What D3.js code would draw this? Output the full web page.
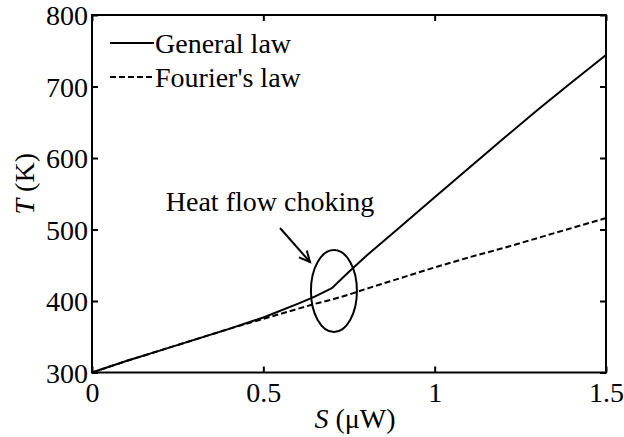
<!DOCTYPE html>
<html><head><meta charset="utf-8">
<script src="https://cdn.jsdelivr.net/npm/d3@7"></script>
<style>body{margin:0;background:#fff}svg{display:block}
svg text{font-family:"Liberation Serif","Times New Roman","DejaVu Serif",serif !important;fill:#000}</style>
</head><body><svg id="c" width="624" height="437"></svg>
<script>
const sValues = [0,0.1,0.2,0.3,0.4,0.5,0.6,0.65,0.7,0.75,0.8,0.9,1.0,1.1,1.2,1.3,1.4,1.5];
const generalLaw = [300,316,331,346,361,377,396,406,418,441,463,504,545,586,627,667,706,744];
const fourierLaw = [300,316,331,346,361,375,389,396,402,409,417,432,447,461,474,488,502,516];
const xTicks = [0,0.5,1,1.5];
const xTickLabels = ["0","0.5","1","1.5"];
const yTicks = [300,400,500,600,700,800];
const seriesNames = ["General law","Fourier's law"];
const annotationText = "Heat flow choking";

const FONT = "Liberation Serif, Times New Roman, DejaVu Serif, serif";
const FS = 28;
const svg = d3.select("#c");
const L=92,R=606,T=15,B=372.5;
const x = d3.scaleLinear().domain([0,1.5]).range([L,R]);
const y = d3.scaleLinear().domain([300,800]).range([B,T]);

svg.append("rect").attr("x",L).attr("y",T).attr("width",R-L).attr("height",B-T)
  .attr("fill","none").attr("stroke","#000").attr("stroke-width",2);

const tickLen=6;
const ax = svg.append("g").attr("transform",`translate(0,${B})`)
  .call(d3.axisBottom(x).tickValues(xTicks).tickFormat((d,i)=>xTickLabels[i]).tickSizeInner(-tickLen).tickSizeOuter(0).tickPadding(10));
const ax2 = svg.append("g").attr("transform",`translate(0,${T})`)
  .call(d3.axisTop(x).tickValues(xTicks).tickFormat("").tickSizeInner(-tickLen).tickSizeOuter(0));
const ay = svg.append("g").attr("transform",`translate(${L},0)`)
  .call(d3.axisLeft(y).tickValues(yTicks).tickFormat(d3.format("d")).tickSizeInner(-tickLen).tickSizeOuter(0).tickPadding(4));
const ay2 = svg.append("g").attr("transform",`translate(${R},0)`)
  .call(d3.axisRight(y).tickValues(yTicks).tickFormat("").tickSizeInner(-tickLen).tickSizeOuter(0));
[ax,ax2,ay,ay2].forEach(g=>{
  g.attr("font-family",FONT).attr("font-size",FS);
  g.select(".domain").remove();
  g.selectAll("line").attr("stroke","#000").attr("stroke-width",2);
  g.selectAll("text").attr("fill","#000");
});
ax.selectAll("text").attr("dy","0.71em");
ay.selectAll("text").attr("dy","0.35em");

const line = d3.line().x((d,i)=>x(sValues[i])).y(d=>y(d));
svg.append("path").datum(fourierLaw).attr("d",line).attr("fill","none").attr("stroke","#000")
  .attr("stroke-width",2).attr("stroke-dasharray","6,3");
svg.append("path").datum(generalLaw).attr("d",line).attr("fill","none").attr("stroke","#000")
  .attr("stroke-width",2);

const leg = svg.append("g").attr("font-family",FONT).attr("font-size",FS);
[0,1].forEach(i=>{
  const ly = 43 + i*34;
  leg.append("line").attr("x1",110).attr("x2",154).attr("y1",ly).attr("y2",ly)
    .attr("stroke","#000").attr("stroke-width",2).attr("stroke-dasharray",i? "6,3":null);
  leg.append("text").attr("x",155).attr("y",ly).attr("dy","0.35em").text(seriesNames[i]);
});

svg.append("ellipse").attr("cx",x(0.706)).attr("cy",y(414)).attr("rx",23).attr("ry",41)
  .attr("fill","none").attr("stroke","#000").attr("stroke-width",2);
svg.append("text").attr("font-family",FONT).attr("font-size",FS).attr("x",270).attr("y",211).attr("text-anchor","middle").text(annotationText);
const ax0=280, ay0=228, ax1=310, ay1=262;
svg.append("line").attr("x1",ax0).attr("y1",ay0).attr("x2",ax1).attr("y2",ay1).attr("stroke","#000").attr("stroke-width",2);
const ang=Math.atan2(ay1-ay0,ax1-ax0), hl=12, ha=0.45;
svg.append("path").attr("d",`M${ax1-hl*Math.cos(ang-ha)},${ay1-hl*Math.sin(ang-ha)}L${ax1},${ay1}L${ax1-hl*Math.cos(ang+ha)},${ay1-hl*Math.sin(ang+ha)}`)
  .attr("fill","none").attr("stroke","#000").attr("stroke-width",2);

const xt = svg.append("text").attr("font-family",FONT).attr("font-size",FS).attr("x",355).attr("y",428).attr("text-anchor","middle");
xt.append("tspan").attr("font-style","italic").text("S");
xt.append("tspan").text(" (\u03bcW)");
const yt = svg.append("text").attr("font-family",FONT).attr("font-size",FS).attr("transform",`translate(34,${(T+B)/2-10}) rotate(-90)`).attr("text-anchor","middle");
yt.append("tspan").attr("font-style","italic").text("T");
yt.append("tspan").text(" (K)");
</script></body></html>
